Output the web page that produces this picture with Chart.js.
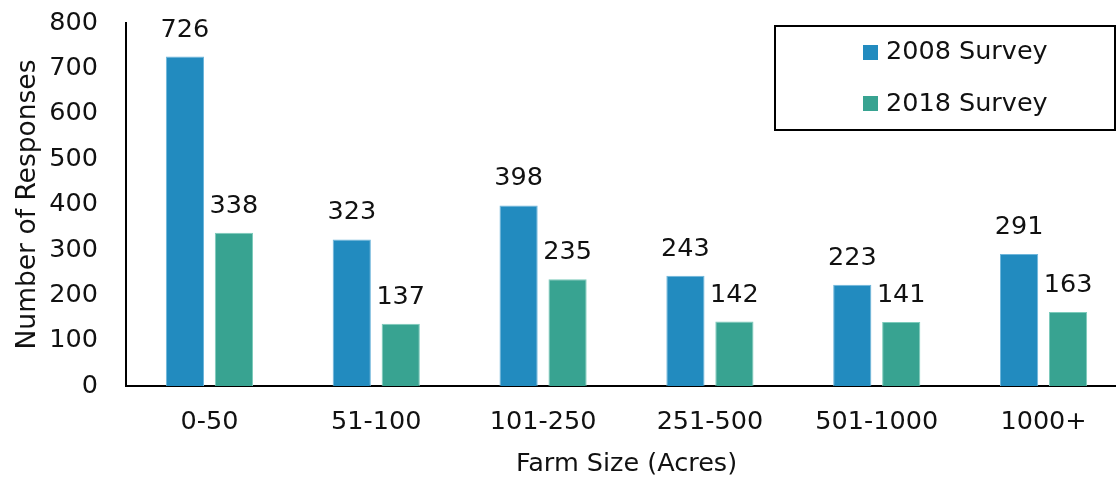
<!DOCTYPE html>
<html>
<head>
<meta charset="utf-8">
<script src="https://cdn.jsdelivr.net/npm/chart.js@4.4.1/dist/chart.umd.min.js"></script>
<style>
  html, body { margin: 0; padding: 0; background: #fff; overflow: hidden; }
  #wrap { width: 1140px; height: 481px; position: relative; }
</style>
</head>
<body>
<div id="wrap"><canvas id="c"></canvas></div>
<script>
const categories = ['0-50', '51-100', '101-250', '251-500', '501-1000', '1000+'];
const survey2008 = [726, 323, 398, 243, 223, 291];
const survey2018 = [338, 137, 235, 142, 141, 163];
const seriesNames = ['2008 Survey', '2018 Survey'];
const yTicks = [0, 100, 200, 300, 400, 500, 600, 700, 800];

const FONT = 'DejaVu Sans';
const BLUE = '#228BBF';
const TEAL = '#38A391';
const FS = 25.5;

const valueLabels = {
  id: 'valueLabels',
  afterDatasetsDraw(chart) {
    const ctx = chart.ctx;
    ctx.save();
    ctx.font = FS + 'px "' + FONT + '"';
    ctx.fillStyle = '#111';
    ctx.textAlign = 'center';
    ctx.textBaseline = 'alphabetic';
    chart.data.datasets.forEach((ds, i) => {
      const meta = chart.getDatasetMeta(i);
      meta.data.forEach((bar, j) => {
        ctx.fillText(String(ds.data[j]), bar.x, bar.y - 20);
      });
    });
    ctx.restore();
  }
};

const boxLegend = {
  id: 'boxLegend',
  afterDraw(chart) {
    const ctx = chart.ctx;
    ctx.save();
    ctx.strokeStyle = '#000';
    ctx.lineWidth = 2;
    ctx.strokeRect(775, 26, 340, 104);
    ctx.font = FS + 'px "' + FONT + '"';
    ctx.textAlign = 'left';
    ctx.textBaseline = 'alphabetic';
    const boxes = [45, 96];
    const bases = [59, 111];
    chart.data.datasets.forEach((ds, i) => {
      ctx.fillStyle = ds.backgroundColor;
      ctx.fillRect(863, boxes[i], 15, 15);
      ctx.fillStyle = '#111';
      ctx.fillText(ds.label, 886, bases[i]);
    });
    ctx.restore();
  }
};

new Chart(document.getElementById('c'), {
  type: 'bar',
  data: {
    labels: categories,
    datasets: [
      { label: seriesNames[0], data: survey2008, backgroundColor: BLUE, borderColor: '#6fb6db', borderWidth: 1 },
      { label: seriesNames[1], data: survey2018, backgroundColor: TEAL, borderColor: '#7ccbbb', borderWidth: 1 }
    ]
  },
  options: {
    responsive: true,
    maintainAspectRatio: false,
    animation: false,
    layout: { padding: { left: 0, right: 13, top: 23, bottom: 0 } },
    plugins: { legend: { display: false }, tooltip: { enabled: false } },
    datasets: { bar: { categoryPercentage: 0.587, barPercentage: 0.78 } },
    scales: {
      x: {
        grid: { display: false, drawTicks: false },
        border: { display: true, color: '#000', width: 2 },
        ticks: { color: '#111', font: { family: FONT, size: FS }, padding: 21 },
        title: { display: true, text: 'Farm Size (Acres)', color: '#111', font: { family: FONT, size: 25.5 }, padding: { bottom: 1 } },
        afterFit(scale) { scale.height = 95; }
      },
      y: {
        min: 0, max: 800,
        afterBuildTicks(scale) { scale.ticks = yTicks.map(v => ({ value: v })); },
        grid: { display: false, drawTicks: false },
        border: { display: true, color: '#000', width: 2 },
        ticks: { color: '#111', font: { family: FONT, size: FS }, padding: 28 },
        title: { display: true, text: 'Number of Responses', color: '#111', font: { family: FONT, size: 26.5 }, padding: { top: 12 } },
        afterFit(scale) { scale.width = 126; scale.paddingTop = 0; scale.paddingBottom = 0; }
      }
    }
  },
  plugins: [valueLabels, boxLegend]
});
</script>
</body>
</html>
